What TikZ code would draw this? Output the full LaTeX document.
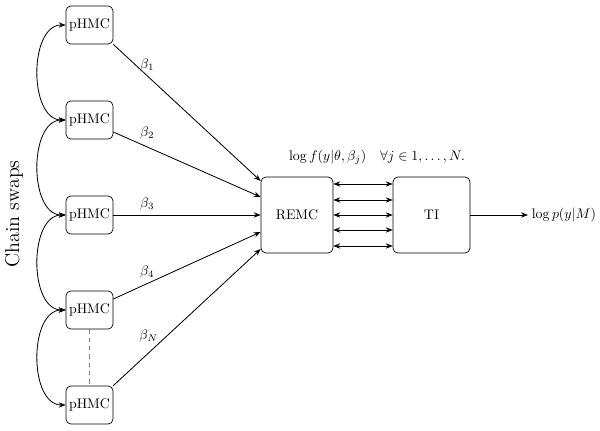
\documentclass[tikz,border=0pt]{standalone}
\usetikzlibrary{calc,arrows.meta}
\begin{document}
\begin{tikzpicture}[x=0.72pt,y=-0.72pt,
  chainbox/.style={draw,rounded corners=3.5pt,minimum width=33.8pt,minimum height=27.4pt,inner sep=1pt,line width=0.5pt},
  bigbox/.style={draw,rounded corners=3.5pt,minimum height=54.7pt,line width=0.5pt},
  conn/.style={line width=0.6pt,-{Stealth[length=5pt,width=3.8pt]}},
  dconn/.style={line width=0.6pt,{Stealth[length=5pt,width=3.8pt]}-{Stealth[length=5pt,width=3.8pt]}},
  blabel/.style={}]
\useasboundingbox (0,0) rectangle (600,431);
\node[chainbox] (p1) at (89.5,25) {pHMC};
\node[chainbox] (p2) at (89.5,120) {pHMC};
\node[chainbox] (p3) at (89.5,215) {pHMC};
\node[chainbox] (p4) at (89.5,310) {pHMC};
\node[chainbox] (p5) at (89.5,405) {pHMC};
\node[bigbox,minimum width=51.8pt] (remc) at (297,215) {REMC};
\node[bigbox,minimum width=55.4pt] (ti) at (431.5,215) {TI};
\node[rotate=90,font=\Large] (cs) at (14,214) {Chain swaps};
\node (lf) at (377,157) {$\log f(y|\theta,\beta_j)\quad\forall j\in 1,\ldots,N.$};
\coordinate (out) at (528,215);
\node[anchor=west,inner sep=2.5pt] (lp) at (out) {$\log p(y|M)$};
% chain swaps
\foreach \a/\b in {p1/p2,p2/p3,p3/p4,p4/p5}
  \draw[dconn] (\a.west) to[out=180,in=180] (\b.west);
\draw[gray,dashed,line width=0.5pt] (p4.south) -- (p5.north);
% to REMC
\draw[conn] (p1.south east) -- node[pos=0.23,above,blabel] {$\beta_1$} ($(remc.west)+(0,-34)$);
\draw[conn] ($(p2.east)+(0,12)$) -- node[pos=0.23,above,yshift=2pt,blabel] {$\beta_2$} ($(remc.west)+(0,-18)$);
\draw[conn] (p3.east) -- node[pos=0.23,above,blabel] {$\beta_3$} (remc.west);
\draw[conn] ($(p4.east)+(0,-11)$) -- node[pos=0.23,above,blabel] {$\beta_4$} ($(remc.west)+(0,17)$);
\draw[conn] (p5.north east) -- node[pos=0.24,above,yshift=4pt,blabel] {$\beta_N$} ($(remc.west)+(0,34)$);
% REMC <-> TI
\foreach \d in {-31,-15,0,15,31}
  \draw[dconn] ($(remc.east)+(0,\d)$) -- ($(ti.west)+(0,\d)$);
\draw[conn] (ti.east) -- (out);
\end{tikzpicture}
\end{document}
